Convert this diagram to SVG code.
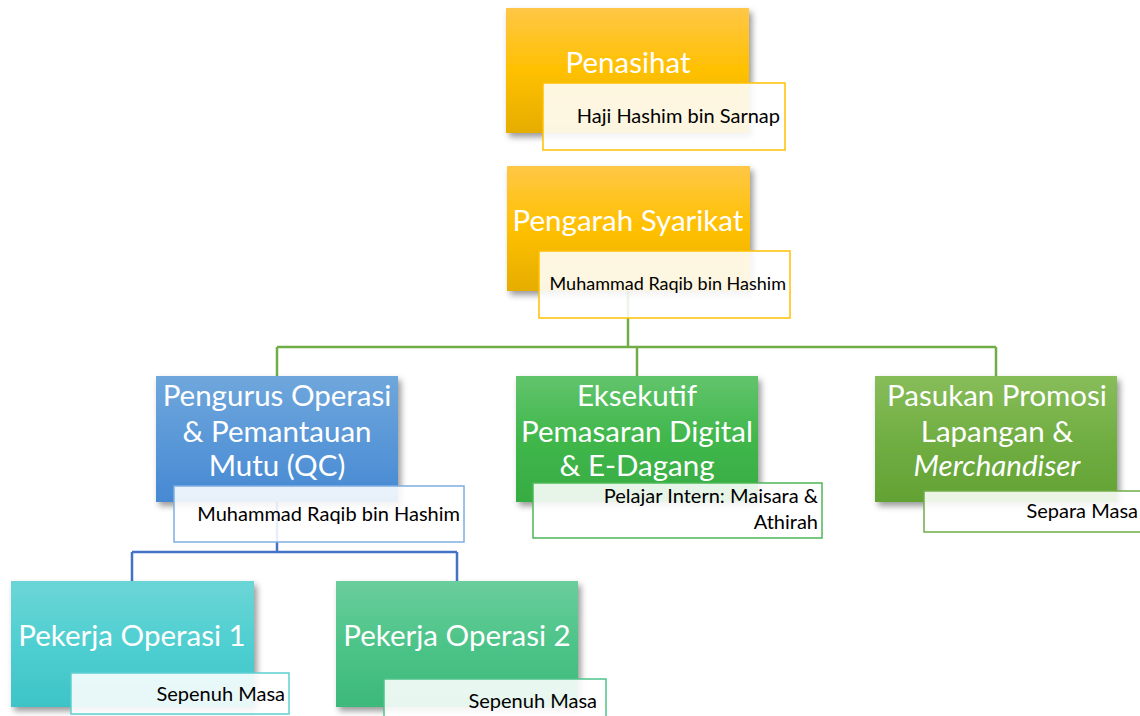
<svg xmlns="http://www.w3.org/2000/svg" width="1140" height="716" viewBox="0 0 1140 716">
<defs>
<linearGradient id="gOrange" x1="0" y1="0" x2="0" y2="1"><stop offset="0" stop-color="#FFC746"/><stop offset="0.5" stop-color="#FFC000"/><stop offset="1" stop-color="#E5AD00"/></linearGradient>
<linearGradient id="gBlue" x1="0" y1="0" x2="0" y2="1"><stop offset="0" stop-color="#6FA7DC"/><stop offset="1" stop-color="#4689D3"/></linearGradient>
<linearGradient id="gGreen" x1="0" y1="0" x2="0" y2="1"><stop offset="0" stop-color="#62C46C"/><stop offset="0.5" stop-color="#40B74B"/><stop offset="1" stop-color="#36AC42"/></linearGradient>
<linearGradient id="gOlive" x1="0" y1="0" x2="0" y2="1"><stop offset="0" stop-color="#88BD5A"/><stop offset="0.5" stop-color="#71AE43"/><stop offset="1" stop-color="#62A233"/></linearGradient>
<linearGradient id="gTeal" x1="0" y1="0" x2="0" y2="1"><stop offset="0" stop-color="#6CD5D6"/><stop offset="0.5" stop-color="#4FCFD1"/><stop offset="1" stop-color="#3EC3C6"/></linearGradient>
<linearGradient id="gMint" x1="0" y1="0" x2="0" y2="1"><stop offset="0" stop-color="#6ACD9C"/><stop offset="0.5" stop-color="#4DC489"/><stop offset="1" stop-color="#3CB97A"/></linearGradient>
<filter id="sh" x="-10%" y="-10%" width="125%" height="130%"><feDropShadow dx="3" dy="4" stdDeviation="3" flood-color="#000" flood-opacity="0.4"/></filter>
</defs>
<style>
.title{font-family:Lato,"Noto Sans","Liberation Sans",sans-serif;font-size:29.5px;fill:#fff;text-anchor:middle}
.sub{font-family:Lato,"Noto Sans","Liberation Sans",sans-serif;font-size:20px;fill:#000;text-anchor:end}
.tb{fill:#fff;fill-opacity:0.88;stroke-width:1.5}
.cg{stroke:#70AD47;stroke-width:2.5;fill:none}
.cb{stroke:#4472C4;stroke-width:2.5;fill:none}
</style>
<g id="connectors">
<path class="cg" d="M628 291V347M277 347H996M277 347V376M637 347V376M996 347V376"/>
<path class="cb" d="M277 502V552M132 552H457M132 552V581M457 552V581"/>
</g>
<g id="penasihat">
<rect x="506" y="8" width="243" height="125" fill="url(#gOrange)" filter="url(#sh)"/>
<text class="title" x="628" y="73">Penasihat</text>
<rect class="tb" x="543" y="83" width="242" height="67" stroke="#FFC000"/>
<text class="sub" x="780" y="123">Haji Hashim bin Sarnap</text>
</g>
<g id="pengarah">
<rect x="507" y="166" width="243" height="125" fill="url(#gOrange)" filter="url(#sh)"/>
<text class="title" x="628" y="231">Pengarah Syarikat</text>
<rect class="tb" x="539" y="251" width="251" height="67" stroke="#FFC000"/>
<text class="sub" x="786" y="290" style="font-size:18px">Muhammad Raqib bin Hashim</text>
</g>
<g id="pengurus">
<rect x="156" y="376" width="242" height="126" fill="url(#gBlue)" filter="url(#sh)"/>
<text class="title" x="277" y="406">Pengurus Operasi</text>
<text class="title" x="277" y="442">&amp; Pemantauan</text>
<text class="title" x="277" y="476">Mutu (QC)</text>
<rect class="tb" x="174" y="486" width="290" height="56" stroke="#7FAEE0"/>
<text class="sub" x="460" y="521">Muhammad Raqib bin Hashim</text>
</g>
<g id="eksekutif">
<rect x="516" y="376" width="242" height="126" fill="url(#gGreen)" filter="url(#sh)"/>
<text class="title" x="637" y="406">Eksekutif</text>
<text class="title" x="637" y="442">Pemasaran Digital</text>
<text class="title" x="637" y="476">&amp; E-Dagang</text>
<rect class="tb" x="533" y="483" width="289" height="55" stroke="#4CB856"/>
<text class="sub" x="818" y="503">Pelajar Intern: Maisara &amp;</text>
<text class="sub" x="818" y="529">Athirah</text>
</g>
<g id="pasukan">
<rect x="875" y="376" width="242" height="126" fill="url(#gOlive)" filter="url(#sh)"/>
<text class="title" x="997" y="406">Pasukan Promosi</text>
<text class="title" x="997" y="442">Lapangan &amp;</text>
<text class="title" x="997" y="476" font-style="italic">Merchandiser</text>
<rect class="tb" x="924" y="491" width="230" height="41" stroke="#70AD47"/>
<text class="sub" x="1138" y="518">Separa Masa</text>
</g>
<g id="pekerja1">
<rect x="11" y="581" width="243" height="126" fill="url(#gTeal)" filter="url(#sh)"/>
<text class="title" x="132" y="646">Pekerja Operasi 1</text>
<rect class="tb" x="71" y="673" width="218" height="41" stroke="#5CD0D2"/>
<text class="sub" x="285" y="701">Sepenuh Masa</text>
</g>
<g id="pekerja2">
<rect x="336" y="581" width="242" height="126" fill="url(#gMint)" filter="url(#sh)"/>
<text class="title" x="457" y="646">Pekerja Operasi 2</text>
<rect class="tb" x="384" y="679" width="222" height="45" stroke="#4DC489"/>
<text class="sub" x="597" y="708">Sepenuh Masa</text>
</g>
</svg>
